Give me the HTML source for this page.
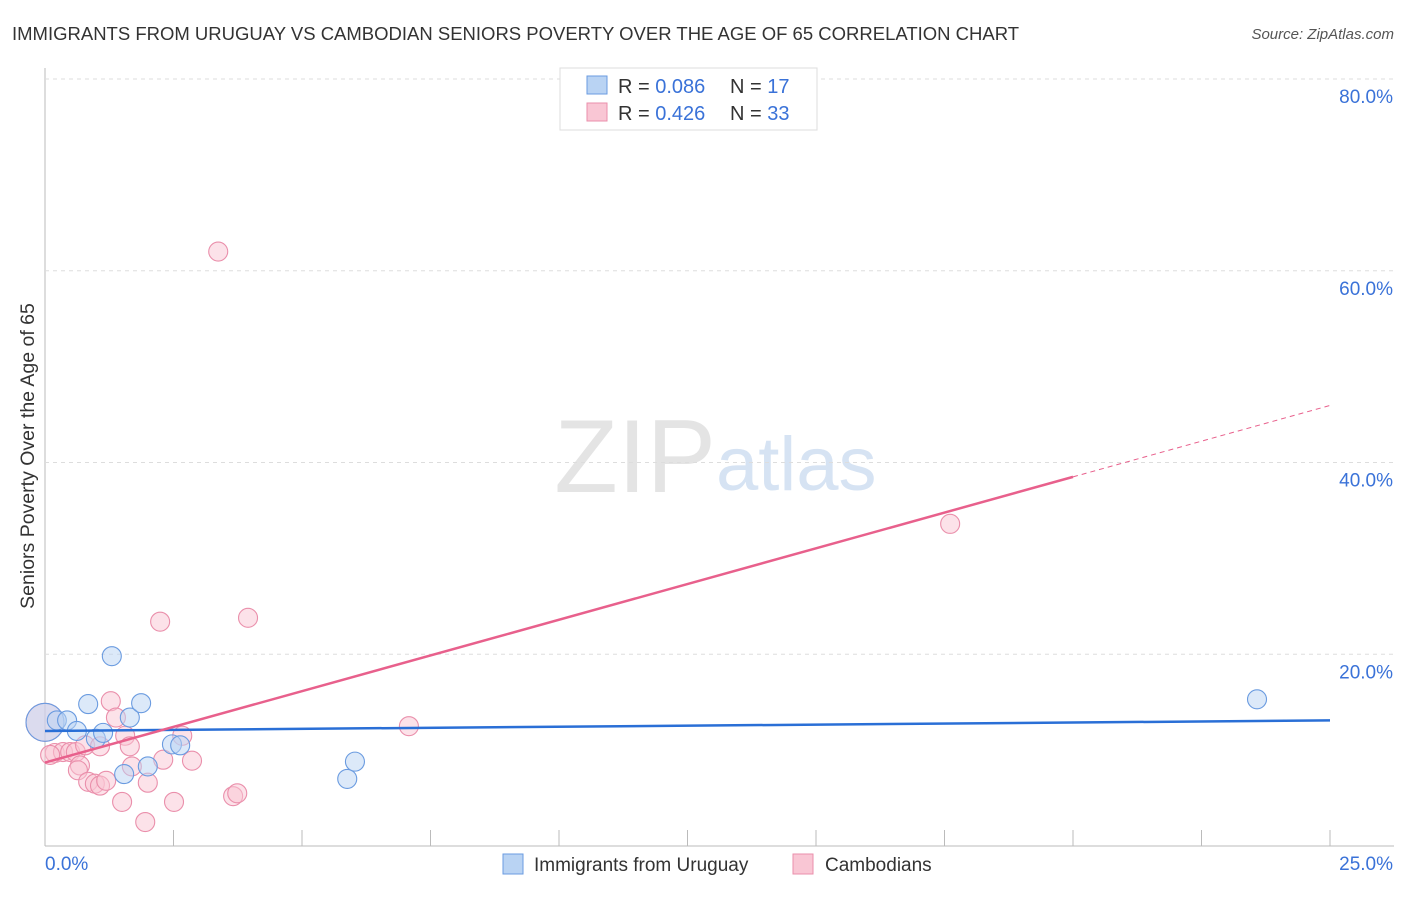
<!DOCTYPE html>
<html><head><meta charset="utf-8"><style>
body{margin:0;background:#fff;font-family:"Liberation Sans",sans-serif}
svg text{font-family:"Liberation Sans",sans-serif}
</style></head><body>
<svg id="c" width="1406" height="892">
<text x="12" y="40" font-size="18.5" fill="#333">IMMIGRANTS FROM URUGUAY VS CAMBODIAN SENIORS POVERTY OVER THE AGE OF 65 CORRELATION CHART</text>
<text x="1394" y="39" font-size="15" fill="#555" font-style="italic" text-anchor="end">Source: ZipAtlas.com</text>
<text x="716" y="492" font-size="104" fill="#e4e4e4" text-anchor="end" font-family="Liberation Serif">ZIP</text>
<text x="716" y="490" font-size="76" fill="#d6e3f3">atlas</text>
<text transform="translate(34,456) rotate(-90)" font-size="19.5" fill="#333" text-anchor="middle">Seniors Poverty Over the Age of 65</text>
<g id="grid"></g><g id="marks"></g>
<g>
<rect x="560" y="68" width="257" height="62" fill="#fff" stroke="#ddd"/>
<rect x="587" y="76" width="20" height="18" fill="#b9d3f3" stroke="#6a9be0"/>
<rect x="587" y="103" width="20" height="18" fill="#f9c6d4" stroke="#ea8fab"/>
<text x="618" y="93" font-size="20" fill="#333">R = <tspan fill="#3a72d8">0.086</tspan></text>
<text x="730" y="93" font-size="20" fill="#333">N = <tspan fill="#3a72d8"> 17</tspan></text>
<text x="618" y="120" font-size="20" fill="#333">R = <tspan fill="#3a72d8"> 0.426</tspan></text>
<text x="730" y="120" font-size="20" fill="#333">N = <tspan fill="#3a72d8">33</tspan></text>
</g>
<g>
<rect x="503" y="854" width="20" height="20" fill="#b9d3f3" stroke="#6a9be0"/>
<text x="534" y="871" font-size="19" fill="#333">Immigrants from Uruguay</text>
<rect x="793" y="854" width="20" height="20" fill="#f9c6d4" stroke="#ea8fab"/>
<text x="825" y="871" font-size="19" fill="#333">Cambodians</text>
</g>
</svg>
<script>
const xTicksLabels=["0.0%","25.0%"];
const yTickValues=[20,40,60,80];
const blueX=[0,0.23,0.43,0.62,0.84,0.99,1.13,1.30,1.54,1.65,1.87,2.00,2.47,2.63,5.88,6.03,23.58];
const blueY=[12.9,13.1,13.1,12.0,14.8,11.2,11.8,19.8,7.5,13.4,14.9,8.3,10.6,10.5,7.0,8.8,15.3];
const pinkX=[0,3.37,2.24,3.95,17.61,7.08,1.28,1.38,1.56,1.65,2.30,2.67,2.86,0.19,0.35,0.49,0.60,0.68,0.64,0.84,0.97,1.07,1.19,1.50,1.95,2.00,1.69,2.51,3.66,3.74,0.78,1.07,0.10];
const pinkY=[12.9,62.0,23.4,23.8,33.6,12.5,15.1,13.4,11.5,10.4,9.0,11.5,8.9,9.7,9.8,9.8,9.8,8.4,7.9,6.7,6.5,6.3,6.8,4.6,2.5,6.6,8.3,4.6,5.2,5.5,10.5,10.4,9.5];
const blueTrend=[12.0,13.1];
const pinkTrend=[8.7,1.49];
const NS="http://www.w3.org/2000/svg";
const X=v=>45+v/25*1285, Y=v=>846-v*9.5875;
function mk(t,a,p){const e=document.createElementNS(NS,t);for(const k in a)e.setAttribute(k,a[k]);p.appendChild(e);return e;}
const g=document.getElementById('grid'),m=document.getElementById('marks');
const ax=mk('line',{x1:45,y1:68,x2:45,y2:846,stroke:'#bbb'},g);


const bx=mk('line',{x1:45,y1:846,x2:1394,y2:846,stroke:'#bbb'},g);


for(let i=1;i<=10;i++){const t=mk('line',{x1:X(i*2.5),x2:X(i*2.5),y1:830,y2:846,stroke:'#bbb'},g);

}
yTickValues.forEach(v=>{const l=mk('line',{x1:45,x2:1394,y1:Y(v),y2:Y(v),stroke:'#ddd','stroke-dasharray':'4,4'},g);


const t=mk('text',{x:1393,y:Y(v)+24,'font-size':19,fill:'#3a72d8','text-anchor':'end'},g);t.textContent=v.toFixed(1)+'%';

});
xTicksLabels.forEach((s,i)=>{const t=mk('text',{x:i?1393:45,y:870,'font-size':19,fill:'#3a72d8','text-anchor':i?'end':'start'},g);t.textContent=s;

});
function pts(xs,ys,fill,stroke,name){xs.forEach((x,i)=>{const c=mk('circle',{cx:X(x),cy:Y(ys[i]),r:(x===0?19:9.5),fill:fill,'fill-opacity':0.5,stroke:stroke,'stroke-width':1.1},m);

});}
pts(pinkX,pinkY,'#f9c6d4','#ea8fab','cambodian-point');
pts(blueX,blueY,'#b9d3f3','#6a9be0','uruguay-point');
const bl=mk('line',{x1:X(0),y1:Y(blueTrend[0]),x2:X(25),y2:Y(blueTrend[1]),stroke:'#2a6fd6','stroke-width':2.5},m);


const pl=mk('line',{x1:X(0),y1:Y(pinkTrend[0]),x2:X(20),y2:Y(pinkTrend[0]+20*pinkTrend[1]),stroke:'#e8608c','stroke-width':2.5},m);


const pd=mk('line',{x1:X(20),y1:Y(pinkTrend[0]+20*pinkTrend[1]),x2:X(25),y2:Y(pinkTrend[0]+25*pinkTrend[1]),stroke:'#e8608c','stroke-width':1,'stroke-dasharray':'5,4'},m);


</script>
</body></html>
